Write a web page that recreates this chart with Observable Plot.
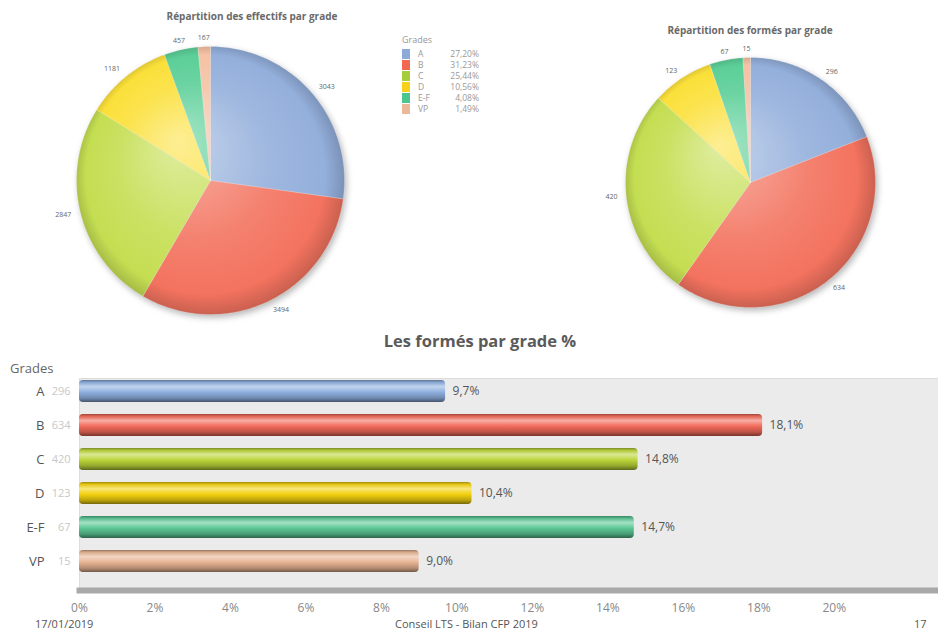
<!DOCTYPE html>
<html><head><meta charset="utf-8">
<script src="https://cdn.jsdelivr.net/npm/d3@7"></script>
<script src="https://cdn.jsdelivr.net/npm/@observablehq/plot@0.6"></script>
<style>
body{margin:0;width:938px;height:631px;overflow:hidden;background:#fff;font-family:"Open Sans",sans-serif;position:relative}
.abs{position:absolute}
.ptitle{font-weight:bold;font-size:10px;color:#6a6a6a;white-space:nowrap;transform:translateX(-50%)}
.legend{font-size:8.5px;color:#999;line-height:11px}
.legend .row{position:relative;height:11px}
.legend .sw{position:absolute;left:0;top:1px;width:8px;height:10px}
.legend .lab{position:absolute;left:16px}
.legend .pct{position:absolute;right:0;text-align:right}
.pie svg g[aria-label="line"]{filter:drop-shadow(2px 3px 3px rgba(0,0,0,.28))}
.foot{font-size:11px;line-height:13px;color:#555;white-space:nowrap}
</style></head><body>
<svg width="0" height="0" style="position:absolute"><defs id="defs"></defs></svg>
<div class="abs ptitle" style="left:252px;top:9px">Répartition des effectifs par grade</div>
<div class="abs ptitle" style="left:750px;top:23px">Répartition des formés par grade</div>
<div id="pieL" class="abs pie" style="left:0;top:0"></div>
<div id="pieR" class="abs pie" style="left:469px;top:0"></div>
<div id="legend" class="abs legend" style="left:402px;top:34px;width:77px"></div>
<div class="abs" style="left:480px;top:329px;transform:translateX(-50%);white-space:nowrap;font-weight:bold;font-size:16.5px;color:#5a5a5a">Les formés par grade %</div>
<div class="abs" style="left:10px;top:359px;font-size:13px;color:#666">Grades</div>
<div id="bars" class="abs" style="left:0;top:355px"></div>
<div class="abs foot" style="left:35px;top:617px">17/01/2019</div>
<div class="abs foot" style="left:395px;top:617px">Conseil LTS - Bilan CFP 2019</div>
<div class="abs foot" style="left:914px;top:617px">17</div>
<script>
const grades = ["A", "B", "C", "D", "E-F", "VP"];
const effectifs = [3043, 3494, 2847, 1181, 457, 167];
const formes = [296, 634, 420, 123, 67, 15];
const formesPct = [9.7, 18.1, 14.8, 10.4, 14.7, 9.0];
const xTicks = [0, 2, 4, 6, 8, 10, 12, 14, 16, 18, 20];

const pieColors = ["#93afdb", "#f3735f", "#c4de52", "#fbe03a", "#5ccf98", "#f5c2a4"];
const legendColors = ["#8eaad6", "#f26752", "#a7cd3c", "#f6d21c", "#4cc68f", "#e9b999"];
const barColors = ["#8fb0e0", "#f26b5b", "#bcd53a", "#f3d20f", "#5cc896", "#e8b595"];

const NS = "http://www.w3.org/2000/svg";
const defs = document.getElementById("defs");
function mk(tag, attrs, parent) {
  const e = document.createElementNS(NS, tag);
  for (const k in attrs) e.setAttribute(k, attrs[k]);
  if (parent) parent.appendChild(e);
  return e;
}
function mix(c, w, t) { return d3.interpolateRgb(c, w)(t); }

function radial(id, base, cx, cy, R) {
  const g = mk("radialGradient", {id, gradientUnits: "userSpaceOnUse", cx, cy, r: R * 1.05, fx: cx - R * 0.25, fy: cy - R * 0.3}, defs);
  mk("stop", {offset: "0", "stop-color": mix(base, "#fff", 0.45)}, g);
  mk("stop", {offset: "0.55", "stop-color": mix(base, "#fff", 0.1)}, g);
  mk("stop", {offset: "0.85", "stop-color": base}, g);
  mk("stop", {offset: "1", "stop-color": d3.color(base).darker(0.7).formatHex()}, g);
}
function linear(id, base) {
  const g = mk("linearGradient", {id, x1: 0, y1: 0, x2: 0, y2: 1}, defs);
  const d = (k) => d3.color(base).darker(k).formatHex();
  mk("stop", {offset: "0", "stop-color": d(1.2)}, g);
  mk("stop", {offset: "0.1", "stop-color": d(0.2)}, g);
  mk("stop", {offset: "0.3", "stop-color": mix(base, "#fff", 0.45)}, g);
  mk("stop", {offset: "0.55", "stop-color": base}, g);
  mk("stop", {offset: "0.82", "stop-color": d(0.7)}, g);
  mk("stop", {offset: "1", "stop-color": d(2)}, g);
}

function drawPie(el, values, cx, cy, R, width, height, prefix) {
  grades.forEach((g, i) => radial(prefix + i, pieColors[i], cx, cy, R));
  const total = d3.sum(values);
  const pts = [], labels = [];
  let acc = 0;
  values.forEach((v, i) => {
    const a0 = acc / total * 2 * Math.PI;
    acc += v;
    const a1 = acc / total * 2 * Math.PI;
    const n = Math.max(2, Math.ceil((a1 - a0) / 0.02));
    pts.push({i, x: 0, y: 0});
    for (let k = 0; k <= n; k++) {
      const a = a0 + (a1 - a0) * k / n;
      pts.push({i, x: Math.sin(a), y: Math.cos(a)});
    }
    pts.push({i, x: 0, y: 0});
    const m = (a0 + a1) / 2, s = Math.sin(m);
    labels.push({x: 1.07 * s, y: 1.07 * Math.cos(m), text: String(v), side: s > 0.3 ? "start" : s < -0.3 ? "end" : "middle"});
  });
  const lab = (side) => Plot.text(labels.filter(d => d.side === side), {x: "x", y: "y", text: "text", textAnchor: side, fontSize: 7, fill: "#666"});
  el.appendChild(Plot.plot({
    width, height, margin: 0,
    style: {background: "transparent", overflow: "visible", fontFamily: "Open Sans, sans-serif"},
    x: {domain: [-1, 1], range: [cx - R, cx + R], axis: null},
    y: {domain: [-1, 1], range: [cy + R, cy - R], axis: null},
    color: {type: "identity"},
    marks: [
      Plot.line(pts, {x: "x", y: "y", z: "i", fill: d => `url(#${prefix}${d.i})`, stroke: "rgba(255,255,255,0.35)", strokeWidth: 0.6}),
      lab("start"), lab("middle"), lab("end")
    ]
  }));
}

drawPie(document.getElementById("pieL"), effectifs, 210, 180, 134, 469, 330, "pl");
drawPie(document.getElementById("pieR"), formes, 750 - 469, 182, 125, 469, 330, "pr");

// legend
const totalEff = d3.sum(effectifs);
const leg = document.getElementById("legend");
leg.innerHTML = '<div style="margin-bottom:3px;font-size:9px">Grades</div>' + grades.map((g, i) =>
  `<div class="row"><div class="sw" style="background:${legendColors[i]}"></div><span class="lab">${g}</span><span class="pct">${(effectifs[i] / totalEff * 100).toFixed(2).replace(".", ",")}%</span></div>`
).join("");

// bars
grades.forEach((g, i) => linear("bar" + i, barColors[i]));
const rows = grades.map((g, i) => ({i, grade: g, count: formes[i], pct: formesPct[i]}));
document.getElementById("bars").appendChild(Plot.plot({
  width: 938, height: 270,
  marginLeft: 79, marginRight: 0, marginTop: 23, marginBottom: 35,
  style: {background: "transparent", overflow: "visible", fontFamily: "Open Sans, sans-serif"},
  x: {domain: [0, 22.76], ticks: xTicks, tickFormat: d => d + "%", label: null, tickSize: 0},
  y: {domain: grades, range: [17.8, 224.2], paddingInner: 0.36, paddingOuter: 0.18, axis: null},
  color: {type: "identity"},
  marks: [
    Plot.frame({fill: "#ebebeb", stroke: "#dcdcdc"}),
    Plot.frame({anchor: "bottom", stroke: "#a9a9a9", strokeWidth: 6}),
    Plot.barX(rows, {x: "pct", y: "grade", fill: d => `url(#bar${d.i})`, rx: 4}),
    Plot.text(rows, {x: "pct", y: "grade", text: d => d.pct.toFixed(1).replace(".", ",") + "%", dx: 7, textAnchor: "start", fontSize: 12, fill: "#555"}),
    Plot.text(rows, {x: 0, y: "grade", text: "grade", dx: -35, textAnchor: "end", fontSize: 13, fill: "#555"}),
    Plot.text(rows, {x: 0, y: "grade", text: d => String(d.count), dx: -9, textAnchor: "end", fontSize: 11, fill: "#c8c8c8"}),
    Plot.axisX({ticks: xTicks, tickFormat: d => d + "%", tickSize: 0, tickPadding: 13, fontSize: 12, fill: "#888", label: null})
  ]
}));
</script>
</body></html>
